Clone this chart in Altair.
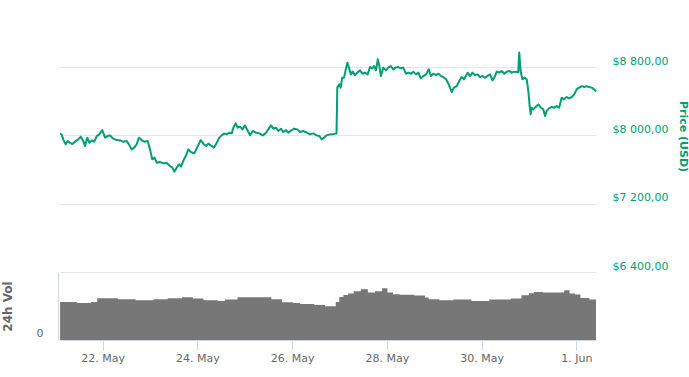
import altair as alt
import pandas as pd

# ---- data ----
# hours since 2018-05-21 00:00 and BTC price (USD)
price_hours = [2.4, 3.2, 4.0, 5.25, 6.3, 7.4, 8.6, 10.0, 11.6, 12.9, 14.2, 15.0, 16.2, 17.2, 18.4, 19.7,
               21.0, 22.3, 23.8, 25.2, 26.5, 27.7, 29.4, 31.1, 32.8, 34.4, 36.2, 37.3, 38.7, 40.0,
               41.2, 42.4, 43.8, 45.1, 46.8, 48.0, 49.1, 50.2, 51.4, 53.0, 54.7, 56.4, 58.1, 59.3,
               60.3, 61.5, 62.7, 63.7, 64.8, 66.1, 67.4, 68.7, 70.4, 72.1, 73.7, 75.0, 76.4, 77.5,
               79.2, 80.4, 81.8, 83.1, 84.3, 85.5, 86.8, 88.2, 89.4, 90.2, 91.4, 92.4, 93.6, 94.8,
               96.1, 97.3, 98.7, 100.0, 101.7, 103.4, 105.1, 106.8, 107.9, 109.3, 110.5, 111.8,
               113.0, 114.4, 115.5, 116.9, 118.1, 119.8, 121.1, 122.6, 124.0, 125.7, 127.4, 129.1,
               130.7, 132.5, 133.8, 135.0, 136.2, 137.5, 139.2, 140.9, 142.2, 142.5, 142.9, 143.9,
               144.6, 145.4, 146.3, 147.2, 148.0, 148.8, 149.8, 150.7, 151.9, 153.0, 154.4, 155.6,
               156.9, 158.3, 159.5, 160.6, 161.6, 162.5, 163.4, 164.2, 165.0, 166.2, 167.6, 168.7,
               170.0, 171.3, 172.5, 173.8, 175.0, 176.3, 177.7, 178.9, 180.3, 181.4, 182.8, 184.0,
               185.2, 186.5, 187.9, 189.2, 190.4, 191.6, 192.9, 194.1, 195.5, 196.6, 198.0, 199.2,
               200.0, 200.9, 202.0, 203.4, 204.7, 205.9, 207.1, 209.0, 210.2, 211.3, 212.7, 214.1,
               215.2, 216.4, 217.8, 218.9, 220.3, 221.5, 222.5, 223.7, 224.9, 226.2, 227.5, 228.8,
               230.1, 231.3, 232.6, 233.8, 234.6, 235.1, 235.8, 236.7, 237.7, 238.9, 239.7, 240.4,
               240.9, 241.4, 242.2, 243.4, 244.8, 246.1, 247.3, 248.2, 249.0, 250.2, 251.6, 252.9,
               254.1, 255.3, 256.6, 257.8, 259.2, 260.3, 261.7, 263.0, 264.2, 265.4, 266.8, 268.1,
               269.3, 270.5, 271.8, 273.1, 274.0]
price_usd = [8020, 8012, 7953, 7895, 7933, 7914, 7898, 7926, 7953, 7985, 7933, 7875, 7973, 7914, 7941, 7926,
             7992, 8012, 8062, 7973, 7992, 8000, 7961, 7945, 7941, 7926, 7933, 7895, 7836, 7856,
             7895, 7973, 7945, 7926, 7933, 7836, 7719, 7739, 7680, 7688, 7672, 7680, 7641, 7622,
             7575, 7622, 7660, 7633, 7699, 7758, 7836, 7805, 7789, 7868, 7945, 7903, 7875, 7903,
             7875, 7856, 7914, 7973, 8000, 8023, 8012, 8031, 8023, 8090, 8140, 8090, 8102, 8070,
             8117, 8062, 8000, 8051, 8031, 8023, 8000, 8031, 8070, 8117, 8078, 8090,
             8051, 8078, 8039, 8062, 8031, 8062, 8078, 8070, 8039, 8051, 8031, 8012,
             8023, 8000, 7992, 7953, 7973, 8000, 8012, 8012, 8023, 8020, 8559, 8597,
             8559, 8676, 8676, 8773, 8851, 8793, 8714, 8746, 8706, 8734, 8761, 8722,
             8734, 8714, 8800, 8785, 8812, 8761, 8890, 8812, 8694, 8793, 8761, 8793,
             8812, 8773, 8793, 8800, 8785, 8793, 8722, 8734, 8722, 8746, 8714, 8734,
             8667, 8694, 8714, 8773, 8694, 8722, 8706, 8722, 8694, 8683, 8656, 8605,
             8559, 8507, 8559, 8577, 8636, 8683, 8656, 8734, 8694, 8734, 8706, 8714,
             8683, 8694, 8676, 8694, 8714, 8644, 8676, 8746, 8734, 8753, 8722, 8746,
             8753, 8734, 8746, 8741, 8741, 8969, 8753, 8656, 8676, 8656, 8519, 8343,
             8246, 8324, 8304, 8332, 8363, 8324, 8304, 8226, 8285, 8316, 8332, 8324,
             8343, 8324, 8441, 8422, 8449, 8433, 8449, 8480, 8539, 8559, 8577, 8566,
             8577, 8566, 8559, 8539, 8512]

# 24h volume (billions USD, step values)
vol_hours = [2.4, 10.9, 18.1, 21.2, 31.7, 40.7, 49.8, 57.0, 64.2, 69.7, 75.1, 82.4, 86.0, 92.3,
             109.5, 114.9, 120.4, 124.0, 131.2, 136.7, 142.1, 143.9, 146.0, 148.4, 151.2, 154.8,
             158.4, 162.0, 165.6, 168.3, 171.1, 174.7, 178.3, 181.9, 187.3, 189.2, 194.6, 201.8,
             210.9, 219.9, 230.8, 236.2, 240.0, 242.5, 247.1, 256.1, 257.9, 260.6, 263.4, 266.1,
             270.6, 274.0]
vol_bn = [4.48, 4.36, 4.48, 4.92, 4.80, 4.68, 4.80, 4.92, 5.04, 4.87, 4.68, 4.60, 4.76, 5.04,
          4.80, 4.45, 4.36, 4.25, 4.13, 3.98, 4.48, 5.07, 5.30, 5.46, 5.73, 5.96,
          5.58, 5.73, 6.08, 5.58, 5.39, 5.31, 5.31, 5.23, 4.99, 4.80, 4.68, 4.76,
          4.60, 4.76, 4.87, 5.27, 5.50, 5.66, 5.58, 5.58, 5.85, 5.46, 5.35, 4.95,
          4.76, 4.76]

price_ticks = [6400, 7200, 8000, 8800]
tick_days = [(5, 22), (5, 24), (5, 26), (5, 28), (5, 30), (6, 1)]

base = pd.Timestamp("2018-05-21")
price_df = pd.DataFrame({"time": base + pd.to_timedelta(price_hours, unit="h"), "price": price_usd})
vol_df = pd.DataFrame({"time": base + pd.to_timedelta(vol_hours, unit="h"), "vol": vol_bn})

FONT = "DejaVu Sans"
GREEN = "#009e73"
GREY = "#666666"
AXIS_BLUE = "#ccd6eb"

x_domain = [alt.DateTime(year=2018, month=5, date=21, hours=2, minutes=22),
            alt.DateTime(year=2018, month=6, date=1, hours=10)]
tick_values = [alt.DateTime(year=2018, month=m, date=d) for m, d in tick_days]

x_enc = alt.X(
    "time:T",
    scale=alt.Scale(domain=x_domain, nice=False),
    axis=alt.Axis(values=tick_values, format="%-d. %b", title=None, grid=False,
                  domainColor=AXIS_BLUE, tickColor=AXIS_BLUE, tickSize=10,
                  labelColor=GREY, labelFontSize=11, labelFont=FONT, labelPadding=2),
)

vol = alt.Chart(vol_df).mark_area(interpolate="step-after", color="#777777", opacity=1).encode(
    x=x_enc,
    y=alt.Y("vol:Q",
            scale=alt.Scale(domain=[0, 8], range=[340, 272], nice=False),
            axis=alt.Axis(orient="left", values=[0], offset=2, grid=False, ticks=False,
                          domainColor=AXIS_BLUE, labelColor=GREY, labelFontSize=11, labelFont=FONT,
                          labelPadding=15, labelOffset=-7,
                          title="24h Vol", titleColor=GREY, titleFont=FONT, titleFontSize=12,
                          titleFontWeight="bold", titleX=-51, titleY=306, titleAngle=270,
                          titleBaseline="middle")),
)

price = alt.Chart(price_df).mark_line(color=GREEN, strokeWidth=2, strokeJoin="round").encode(
    x=x_enc,
    y=alt.Y("price:Q",
            scale=alt.Scale(domain=[6400, 9585], range=[272, 0], nice=False, zero=False),
            axis=alt.Axis(orient="right", values=price_ticks,
                          labelExpr="'$' + replace(format(datum.value, ',d'), ',', ' ') + ',00'",
                          grid=True, gridColor="#e6e6e6", domain=False, ticks=False,
                          labelColor=GREEN, labelFontSize=11, labelFont=FONT, labelPadding=16,
                          labelBaseline="middle", labelOffset=-6,
                          title="Price (USD)", titleColor=GREEN, titleFont=FONT, titleFontSize=11,
                          titleFontWeight="bold", titleX=86, titleY=136, titleAngle=90,
                          titleBaseline="middle")),
)

chart = (
    alt.layer(vol, price)
    .resolve_scale(y="independent")
    .properties(width=536, height=340, autosize=alt.AutoSizeParams(type="none"),
                padding={"left": 60, "top": 0, "right": 93, "bottom": 37})
    .configure_view(stroke=None)
)

chart.save("out.html", embed_options={"renderer": "svg", "actions": False})
